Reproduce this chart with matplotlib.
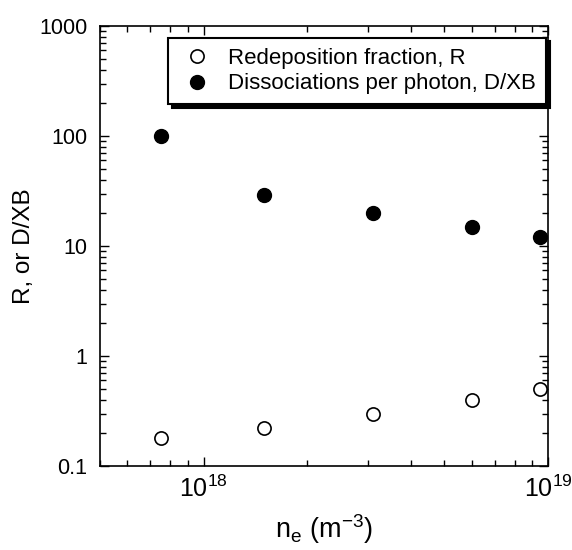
import math
import matplotlib
matplotlib.use("Agg")
import matplotlib.pyplot as plt
from matplotlib.ticker import LogLocator, NullFormatter, FixedLocator, FuncFormatter

plt.rcParams['font.family'] = ['Liberation Sans', 'DejaVu Sans']
plt.rcParams['mathtext.default'] = 'regular'

ne = [7.5e17, 1.5e18, 3.1e18, 6.0e18, 9.5e18]
R = [0.18, 0.22, 0.30, 0.40, 0.50]
DXB = [100, 29, 20, 15, 12]
ytick_vals = [0.1, 1, 10, 100, 1000]
ytick_labels = ['0.1', '1', '10', '100', '1000']
xtick_vals = [1e18, 1e19]

fig = plt.figure(figsize=(5.72, 5.5), dpi=100)
ax = fig.add_axes([0.175, 0.1527, 0.783, 0.80])

ax.plot(ne, R, 'o', mfc='white', mec='black', mew=1.2, ms=9.5,
        label='Redeposition fraction, R', clip_on=False, zorder=3)
ax.plot(ne, DXB, 'o', mfc='black', mec='black', ms=10,
        label='Dissociations per photon, D/XB', clip_on=False, zorder=3)

ax.set_xscale('log')
ax.set_yscale('log')
ax.set_xlim(5e17, 1e19)
ax.set_ylim(0.1, 1000)

ax.yaxis.set_major_locator(FixedLocator(ytick_vals))
ax.set_yticklabels(ytick_labels)
ax.yaxis.set_minor_locator(LogLocator(base=10, subs=range(2, 10), numticks=20))
ax.yaxis.set_minor_formatter(NullFormatter())
ax.xaxis.set_major_locator(FixedLocator(xtick_vals))
ax.xaxis.set_major_formatter(FuncFormatter(lambda v, p: r'$10^{%d}$' % round(math.log10(v))))
ax.xaxis.set_minor_locator(LogLocator(base=10, subs=range(2, 10), numticks=20))
ax.xaxis.set_minor_formatter(NullFormatter())

ax.tick_params(which='both', direction='in', top=True, right=True, width=1)
ax.tick_params(which='major', length=6.5)
ax.tick_params(axis='y', which='major', labelsize=15.5, pad=9)
ax.tick_params(axis='x', which='major', labelsize=18, pad=7)
ax.tick_params(which='minor', length=4)
for s in ax.spines.values():
    s.set_linewidth(1.2)

ax.set_xlabel(r'n$_e$ (m$^{-3}$)', fontsize=19.5, labelpad=7)
ax.set_ylabel('R, or D/XB', fontsize=17.5, labelpad=3)

leg = ax.legend(loc='upper right', bbox_to_anchor=(0.996, 0.973), borderaxespad=0,
                fontsize=16, frameon=True, fancybox=False, edgecolor='black',
                shadow={'color': 'black', 'alpha': 1, 'ox': 2.5, 'oy': -2.5},
                handletextpad=0.55, handlelength=1.7, borderpad=0.45, labelspacing=0.2)
leg.get_frame().set_linewidth(1.5)
leg.set_zorder(5)

fig.savefig('out.png', dpi=100)
